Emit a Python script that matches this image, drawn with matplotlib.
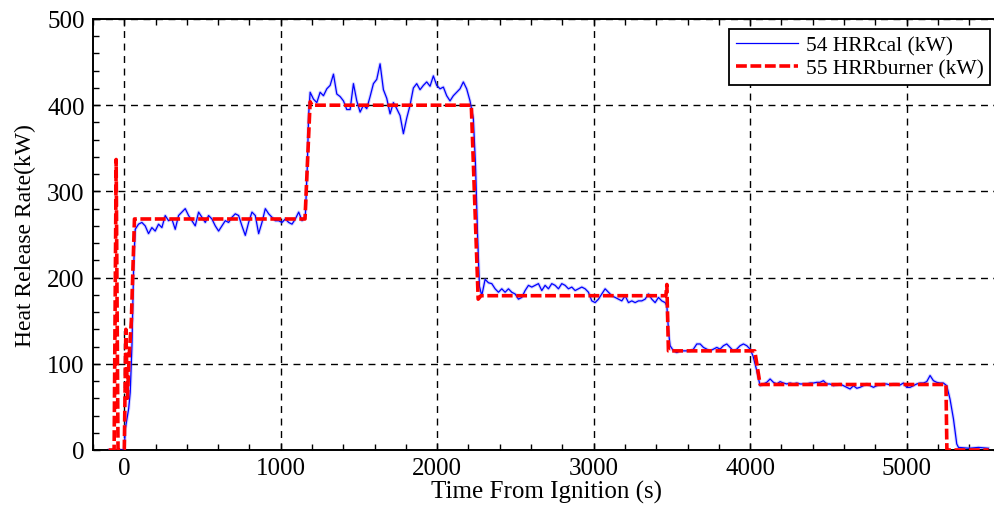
import numpy as np
import matplotlib
matplotlib.use("Agg")
import matplotlib.pyplot as plt
from matplotlib.ticker import MultipleLocator

plt.rcParams['font.family'] = ['Liberation Serif', 'DejaVu Serif']

# ---- 55 HRRburner (kW): set-point of the burner
t_burner = [-100, -65, -52, -40, 0, 10, 20, 30, 45, 65, 1155, 1188, 1200,
            2218, 2262, 2280, 3462, 3468, 3478, 4030, 4064, 5252, 5258, 5525]
hrr_burner = [0, 0, 337, 0, 0, 140, 60, 105, 150, 268, 268, 404, 400,
              400, 175, 179, 179, 192, 115, 115, 76, 76, 0, 0]

# ---- 54 HRRcal (kW): measured curve, one list per stage
t_start = [-100, -40, 0, 6, 28, 38, 49, 60, 70]
cal_start = [0, 0, 0, 24, 48, 67, 121, 214, 256]

cal_stage1 = [262, 264, 260, 251, 258, 254, 262, 258, 272, 266,
              268, 256, 272, 276, 280, 272, 266, 260, 276, 270,
              264, 272, 268, 260, 254, 260, 266, 264, 270, 274,
              272, 260, 249, 264, 276, 272, 251, 264, 280, 274,
              270, 266, 266, 264, 268, 264, 262, 268, 276, 266]
stage1_span = (91, 1136)

t_rise1 = [1157, 1170, 1178]
cal_rise1 = [270, 330, 388]

cal_stage2 = [415, 407, 403, 415, 411, 419, 423, 436, 413, 410,
              405, 395, 395, 425, 405, 392, 400, 396, 410, 425,
              430, 448, 418, 408, 390, 403, 396, 388, 367, 385,
              400, 420, 425, 418, 423, 427, 422, 434, 423, 419,
              421, 411, 405, 411, 415, 419, 427, 419, 405, 385]
stage2_span = (1188, 2231)

t_fall2 = [2245, 2258, 2270]
cal_fall2 = [330, 250, 190]

cal_stage3 = [179, 198, 194, 193, 187, 183, 187, 183, 187, 183,
              181, 175, 177, 185, 191, 189, 191, 193, 185, 191,
              187, 193, 191, 187, 193, 191, 187, 189, 185, 187,
              189, 187, 183, 173, 171, 175, 181, 187, 183, 179,
              177, 175, 173, 179, 171, 173, 171, 173, 173, 175,
              181, 175, 171, 177, 173, 171]
stage3_span = (2285, 3457)

t_fall3 = [3468, 3480]
cal_fall3 = [167, 135]

cal_stage4 = [121, 115, 113, 115, 115, 115, 115, 117, 123, 123,
              119, 117, 115, 117, 119, 117, 121, 123, 119, 115,
              117, 121, 123, 121, 117]
stage4_span = (3489, 4000)

t_fall4 = [4019, 4040]
cal_fall4 = [109, 94]

cal_stage5 = [74.6, 76.6, 78.5, 82.4, 78.5, 76.6, 79.3, 77.7, 76.6, 77.7,
              76.6, 77.7, 76.6, 76.6, 76.6, 77.7, 77.7, 78.5, 78.5, 80.4,
              76.6, 76.6, 74.6, 75.4, 76.6, 74.6, 72.7, 70.8, 74.6, 71.6,
              72.7, 74.6, 76.6, 74.6, 72.7, 74.6, 75.4, 76.6, 76.6, 75.4,
              76.6, 76.6, 75.4, 77.7, 72.7, 72.7, 74.6, 76.6, 77.7, 77.7,
              79.3, 86.4, 80.4, 78.5, 77.7, 77.7, 74.6]
stage5_span = (4064, 5257)

t_end = [5278, 5300, 5321, 5332, 5400, 5460, 5523]
cal_end = [59, 36, 7, 3, 2, 3, 2]


def stage_times(values, span):
    # samples are evenly spaced over the stage
    return list(np.linspace(span[0], span[1], len(values)))


t_cal = (t_start + stage_times(cal_stage1, stage1_span) + t_rise1
         + stage_times(cal_stage2, stage2_span) + t_fall2
         + stage_times(cal_stage3, stage3_span) + t_fall3
         + stage_times(cal_stage4, stage4_span) + t_fall4
         + stage_times(cal_stage5, stage5_span) + t_end)
hrr_cal = (cal_start + cal_stage1 + cal_rise1 + cal_stage2 + cal_fall2
           + cal_stage3 + cal_fall3 + cal_stage4 + cal_fall4 + cal_stage5
           + cal_end)

fig = plt.figure(figsize=(9.94, 5.06), dpi=100)
# right edge of the axes sits just past the picture, as in the original
ax = fig.add_axes([93 / 994, 55 / 506, 907.4 / 994, 431 / 506])

ax.plot(t_cal, hrr_cal, color='#8080ff', lw=2.4, alpha=0.35, zorder=2)
ax.plot(t_cal, hrr_cal, color='blue', lw=0.9, label='54 HRRcal (kW)', zorder=3)
ax.plot(t_burner, hrr_burner, color='#ff0000', lw=2.6, ls=(0, (3, 1)),
        label='55 HRRburner (kW)', zorder=4)

ax.set_xlim(-200, 5600)
ax.set_ylim(0, 500)
ax.set_xticks([0, 1000, 2000, 3000, 4000, 5000])
ax.xaxis.set_minor_locator(MultipleLocator(200))
ax.yaxis.set_major_locator(MultipleLocator(100))
ax.yaxis.set_minor_locator(MultipleLocator(20))
ax.tick_params(which='both', direction='in', top=True, right=True,
               labelsize=18, color='black')
ax.tick_params(which='major', length=5, width=1)
ax.tick_params(which='minor', length=4, width=1)
ax.tick_params(axis='x', pad=5)
ax.tick_params(axis='y', pad=6)

ax.grid(True, which='major', color='black', ls=(0, (5, 4)), lw=1)
for s in ax.spines.values():
    s.set_linewidth(1.4)

ax.set_xlabel('Time From Ignition (s)', fontsize=18, labelpad=1)
ax.set_ylabel('Heat Release Rate(kW)', fontsize=17, labelpad=8)

leg = ax.legend(loc='upper left', bbox_to_anchor=(0.701, 0.977),
                borderaxespad=0, fontsize=15.5, fancybox=False,
                framealpha=1, edgecolor='black', handlelength=2.9,
                handletextpad=0.35, labelspacing=0.15, borderpad=0.3)
leg.get_frame().set_linewidth(1.3)

fig.savefig('out.png', dpi=100)
